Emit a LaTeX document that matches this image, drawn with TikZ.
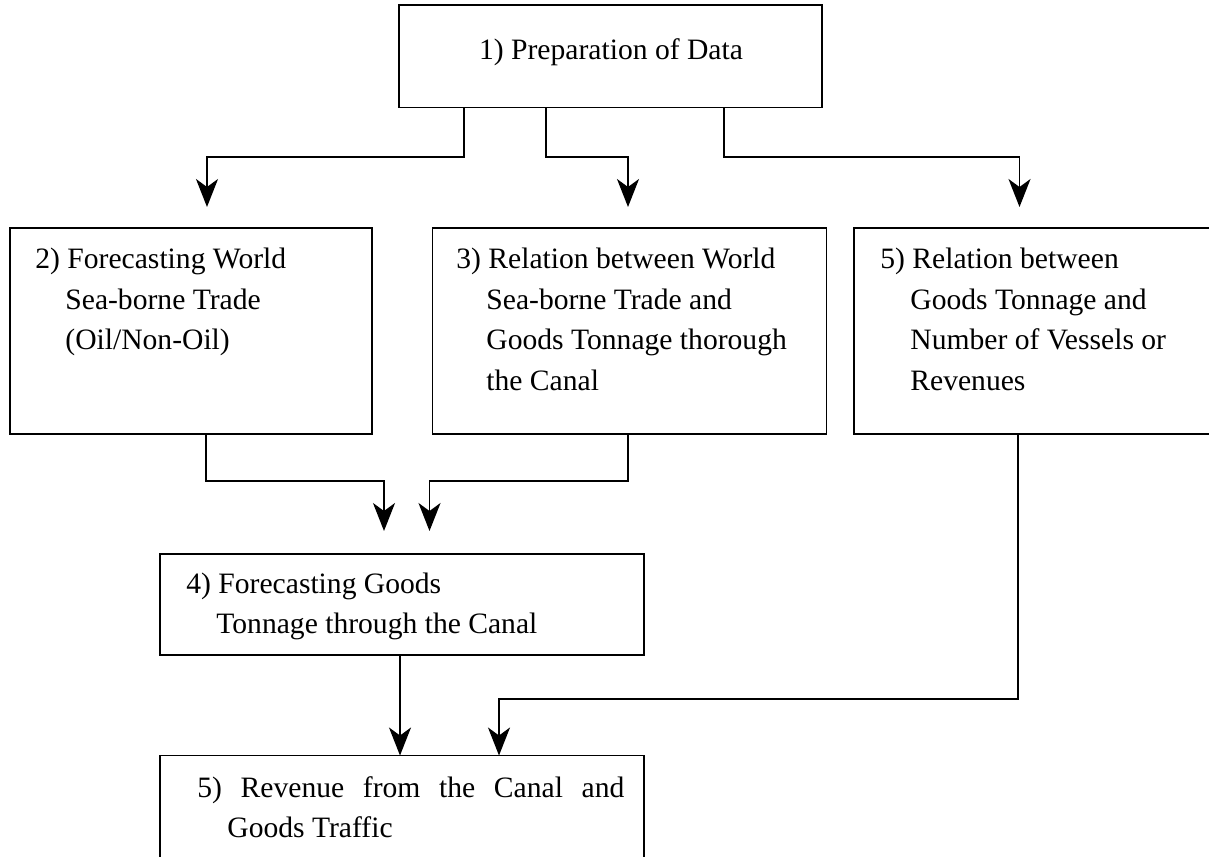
\documentclass[tikz,border=0pt]{standalone}
\usepackage{fontspec}
\setmainfont{Liberation Serif}
\usetikzlibrary{arrows.meta}

\newcommand{\steplines}[2]{\parbox[t]{#1}{\hangindent=15pt\hangafter=1 #2}}

\begin{document}
\begin{tikzpicture}[x=0.5pt,y=-0.5pt,
   box/.style={draw,line width=0.8pt,inner sep=0pt,outer sep=0pt},
   txt/.style={inner sep=0pt,anchor=base west,font=\fontsize{14.8pt}{20.3pt}\selectfont},
   flow/.style={line width=0.8pt,-{Stealth[length=14pt,width=11pt,inset=4pt]}}]
   \useasboundingbox (0,0) rectangle (1209,856);

   \node[box,minimum width=211.5pt,minimum height=51.25pt] (b1) at (610.5,56.25) {};
   \node[txt,anchor=base] (t1) at (611,60) {1) Preparation of Data};

   \node[box,minimum width=181pt,minimum height=103pt] (b2) at (191,331) {};
   \node[box,minimum width=197pt,minimum height=103pt] (b3) at (629.5,331) {};
   \node[box,minimum width=179pt,minimum height=103pt] (b5) at (1033,331) {};
   \node[txt] (t2) at (35,268.5) {\steplines{200pt}{2) Forecasting World\\
      Sea-borne Trade\\(Oil/Non-Oil)}};
   \node[txt] (t3) at (456,268.5) {\steplines{200pt}{3) Relation between World\\
      Sea-borne Trade and\\Goods Tonnage thorough\\the Canal}};
   \node[txt] (t5) at (880,268.5) {\steplines{200pt}{5) Relation between\\
      Goods Tonnage and\\Number of Vessels or\\Revenues}};

   \node[box,minimum width=242pt,minimum height=50.5pt] (b4) at (402,604.5) {};
   \node[txt] (t4) at (186,593) {\steplines{230pt}{4) Forecasting Goods\\
      Tonnage through the Canal}};

   \node[box,minimum width=242pt,minimum height=57.25pt] (b6) at (402,812.75) {};
   \node[txt] (t6) at (197,797) {\steplines{213.5pt}{5) Revenue from the Canal and\linebreak
      Goods Traffic}};

   \coordinate (a2) at (207,207);
   \coordinate (a3) at (628,207);
   \coordinate (a5) at (1019.5,207);
   \coordinate (a4l) at (384,531);
   \coordinate (a4r) at (429.5,531);

   \draw[flow] ([xshift=32.5pt]b1.south west) -- ++(0,49.5) -| (a2);
   \draw[flow] ([xshift=73.5pt]b1.south west) -- ++(0,49.5) -| (a3);
   \draw[flow] ([xshift=162.5pt]b1.south west) -- ++(0,49.5) -| (a5);

   \draw[flow] ([xshift=98pt]b2.south west) -- ++(0,47) -| (a4l);
   \draw[flow] ([xshift=97.75pt]b3.south west) -- ++(0,47) -| (a4r);

   \draw[flow] ([xshift=-1pt]b4.south) -- ([xshift=-1pt]b6.north);
   \draw[flow] ([xshift=82pt]b5.south west) -- ++(0,265) -| ([xshift=48.5pt]b6.north);
 \end{tikzpicture}
\end{document}
